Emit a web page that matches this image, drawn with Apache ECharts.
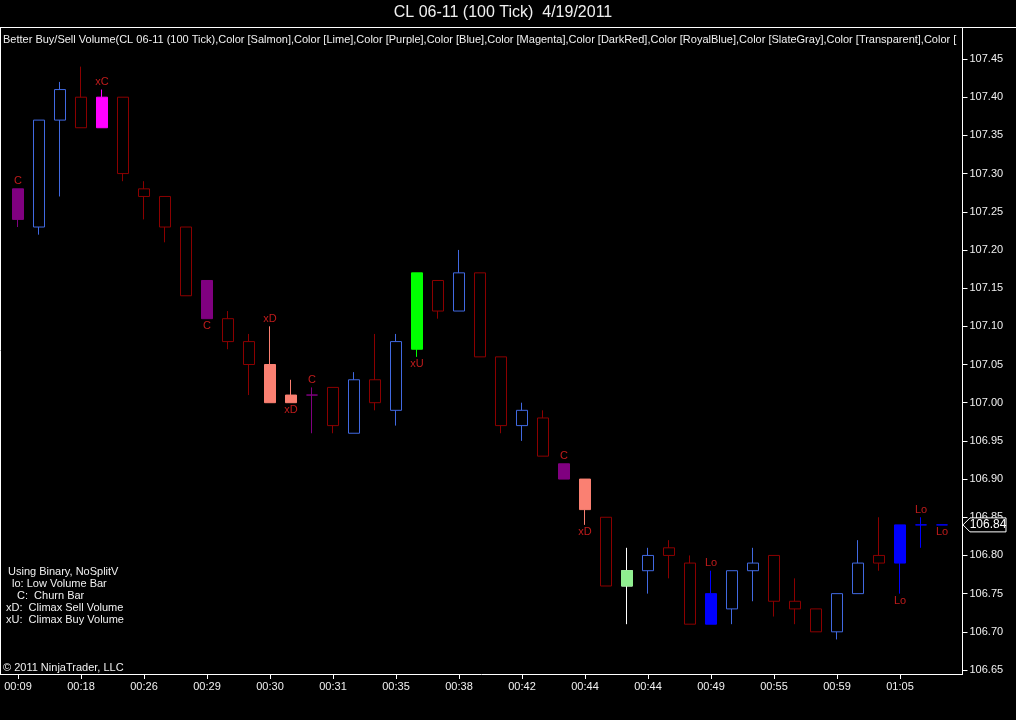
<!DOCTYPE html>
<html>
<head>
<meta charset="utf-8">
<title>CL 06-11 (100 Tick) 4/19/2011</title>
<script src="https://cdn.jsdelivr.net/npm/echarts@6/dist/echarts.min.js"></script>
<style>
    html, body { margin: 0; padding: 0; background: #000; }
    #chart { width: 1016px; height: 720px; }
</style>
</head>
<body>
<div id="chart"></div>
<script>
// bar times (only every third one is labelled on the axis)
var times = ['00:09', '00:12', '00:15', '00:18', '00:21', '00:24', '00:26', '00:27', '00:28',
    '00:29', '00:29', '00:30', '00:30', '00:30', '00:31', '00:31', '00:32', '00:34',
    '00:35', '00:36', '00:37', '00:38', '00:39', '00:41', '00:42', '00:43', '00:43',
    '00:44', '00:44', '00:44', '00:44', '00:46', '00:48', '00:49', '00:51', '00:53',
    '00:55', '00:56', '00:58', '00:59', '01:01', '01:03', '01:05', '01:06', '01:07'];

var opens = [107.24, 107.23, 107.37, 107.40, 107.36, 107.40, 107.28, 107.27, 107.23,
    107.16, 107.11, 107.08, 107.05, 107.01, 107.01, 107.02, 106.96, 107.03,
    106.99, 107.07, 107.16, 107.12, 107.17, 107.06, 106.97, 106.98, 106.92,
    106.90, 106.85, 106.76, 106.78, 106.81, 106.79, 106.71, 106.73, 106.78,
    106.80, 106.74, 106.73, 106.70, 106.75, 106.80, 106.79, 106.84, 106.84];
var closes = [107.28, 107.37, 107.41, 107.36, 107.40, 107.30, 107.27, 107.23, 107.14,
    107.11, 107.08, 107.05, 107.00, 107.00, 107.01, 106.97, 107.03, 107.00,
    107.08, 107.17, 107.12, 107.17, 107.06, 106.97, 106.99, 106.93, 106.90,
    106.86, 106.76, 106.78, 106.80, 106.80, 106.71, 106.75, 106.78, 106.79,
    106.74, 106.73, 106.70, 106.75, 106.79, 106.79, 106.84, 106.84, 106.84];
var lows = [107.23, 107.22, 107.27, 107.36, 107.36, 107.29, 107.24, 107.21, 107.14,
    107.11, 107.07, 107.01, 107.00, 107.00, 106.96, 106.96, 106.96, 106.99,
    106.97, 107.06, 107.11, 107.12, 107.06, 106.96, 106.95, 106.93, 106.90,
    106.84, 106.76, 106.71, 106.75, 106.77, 106.71, 106.71, 106.71, 106.74,
    106.72, 106.71, 106.70, 106.69, 106.75, 106.78, 106.75, 106.81, 106.84];
var highs = [107.28, 107.37, 107.42, 107.44, 107.41, 107.40, 107.29, 107.27, 107.23,
    107.16, 107.12, 107.09, 107.10, 107.03, 107.02, 107.02, 107.04, 107.09,
    107.09, 107.17, 107.16, 107.20, 107.17, 107.06, 107.00, 106.99, 106.92,
    106.90, 106.85, 106.81, 106.81, 106.82, 106.80, 106.78, 106.78, 106.81,
    106.80, 106.77, 106.73, 106.75, 106.82, 106.85, 106.84, 106.85, 106.84];

// volume classification of each bar
var barTypes = ['churn', 'up', 'up', 'down', 'climaxChurn', 'down', 'down', 'down', 'down',
    'churn', 'down', 'down', 'sell', 'sell', 'churn', 'down', 'up', 'down',
    'up', 'buy', 'down', 'up', 'down', 'down', 'up', 'down', 'churn',
    'sell', 'down', 'pale', 'up', 'down', 'down', 'low', 'up', 'up',
    'down', 'down', 'down', 'up', 'up', 'down', 'low', 'low', 'low'];

// signal text above / below bars
var markIdx = [0, 4, 9, 12, 13, 14, 19, 26, 27, 33, 42, 43, 44];
var markText = ['C', 'xC', 'C', 'xD', 'xD', 'C', 'xU', 'C', 'xD', 'Lo', 'Lo', 'Lo', 'Lo'];
var markSide = ['top', 'top', 'bottom', 'top', 'bottom', 'top', 'bottom', 'top', 'bottom',
    'top', 'bottom', 'top', 'bottom'];

var yMin = 106.65, yMax = 107.45, yStep = 0.05;
var lastPrice = 106.84;

var legendLines = [
    ['Using Binary, NoSplitV', 8],
    ['lo: Low Volume Bar', 12],
    ['C:  Churn Bar', 17],
    ['xD:  Climax Sell Volume', 6],
    ['xU:  Climax Buy Volume', 6]
];

var FONT = '"Liberation Sans", Arial, sans-serif';

var typeColors = {
    up: {fill: '#000', border: '#4169e1'},
    down: {fill: '#000', border: '#8b0000'},
    churn: {fill: '#800080', border: '#800080'},
    climaxChurn: {fill: '#ff00ff', border: '#ff00ff'},
    sell: {fill: '#fa8072', border: '#fa8072'},
    buy: {fill: '#00ff00', border: '#00ff00'},
    low: {fill: '#0000ff', border: '#0000ff'},
    pale: {fill: '#90ee90', border: '#ffffff'}
};

var candleData = [];
var paleBodies = [];
for (var i = 0; i < opens.length; i++) {
    var c = typeColors[barTypes[i]];
    candleData.push({
        value: [opens[i], closes[i], lows[i], highs[i]],
        itemStyle: {
            color: c.fill, color0: c.fill,
            borderColor: c.border, borderColor0: c.border, borderColorDoji: c.border
        }
    });
    // body of the pale bar is drawn again on top so its wick stays white
    if (barTypes[i] === 'pale') {
        paleBodies.push({
            value: [opens[i], closes[i], Math.min(opens[i], closes[i]), Math.max(opens[i], closes[i])],
            itemStyle: {
                color: '#90ee90', color0: '#90ee90',
                borderColor: '#90ee90', borderColor0: '#90ee90', borderColorDoji: '#90ee90'
            }
        });
    } else {
        paleBodies.push('-');
    }
}

var markData = [];
for (var k = 0; k < markIdx.length; k++) {
    var j = markIdx[k];
    markData.push({
        name: markText[k],
        value: [j, markSide[k] === 'top' ? highs[j] : lows[j]],
        label: {position: markSide[k]}
    });
}

var graphics = [
    {type: 'text', x: 503, y: 13, style: {text: 'CL 06-11 (100 Tick)  4/19/2011', fill: '#f0f0f0',
        font: '16px ' + FONT, textAlign: 'center', textVerticalAlign: 'middle'}},
    {type: 'text', x: 3, y: 40, style: {
        text: 'Better Buy/Sell Volume(CL 06-11 (100 Tick),Color [Salmon],Color [Lime],Color [Purple],Color [Blue],Color [Magenta],Color [DarkRed],Color [RoyalBlue],Color [SlateGray],Color [Transparent],Color [Transparent],Color [Transparent])',
        fill: '#f0f0f0', font: '11px ' + FONT, textVerticalAlign: 'middle',
        width: 958, overflow: 'truncate', ellipsis: ''}},
    {type: 'text', x: 3, y: 668, style: {text: '\u00a9 2011 NinjaTrader, LLC', fill: '#f0f0f0',
        font: '11px ' + FONT, textVerticalAlign: 'middle'}},
    // frame
    {type: 'line', shape: {x1: 0, y1: 27.5, x2: 1016, y2: 27.5}, style: {stroke: '#fff', lineWidth: 1}},
    {type: 'line', shape: {x1: 0.5, y1: 27, x2: 0.5, y2: 674}, style: {stroke: '#fff', lineWidth: 1}},
    {type: 'line', shape: {x1: 962.5, y1: 27, x2: 962.5, y2: 675}, style: {stroke: '#fff', lineWidth: 1}},
    {type: 'line', shape: {x1: 0, y1: 674.5, x2: 963, y2: 674.5}, style: {stroke: '#fff', lineWidth: 1}}
];
for (var m = 0; m < legendLines.length; m++) {
    graphics.push({type: 'text', x: legendLines[m][1], y: 572 + m * 12, style: {
        text: legendLines[m][0], fill: '#f0f0f0', font: '11px ' + FONT, textVerticalAlign: 'middle'}});
}

var option = {
    backgroundColor: '#000',
    animation: false,
    textStyle: {fontFamily: FONT},
    grid: {left: 7.5, right: 63.5, top: 59, bottom: 50},
    xAxis: {
        type: 'category',
        data: times,
        offset: 4,
        axisLine: {show: false},
        axisTick: {show: true, alignWithLabel: true, interval: 2, length: 5, lineStyle: {color: '#fff'}},
        axisLabel: {interval: 2, color: '#f0f0f0', fontSize: 11, margin: 7},
        splitLine: {show: false}
    },
    yAxis: {
        type: 'value',
        position: 'right',
        offset: 10,
        min: yMin,
        max: yMax,
        interval: yStep,
        scale: true,
        axisLine: {show: false},
        axisTick: {show: true, length: 5, lineStyle: {color: '#fff'}},
        axisLabel: {color: '#f0f0f0', fontSize: 11, margin: 7, formatter: function (v) { return v.toFixed(2); }},
        splitLine: {show: false}
    },
    graphic: graphics,
    series: [
        {
            name: 'CL 06-11',
            type: 'candlestick',
            barWidth: 12,
            data: candleData
        },
        {
            name: 'pale body',
            type: 'candlestick',
            barWidth: 12,
            z: 3,
            data: paleBodies
        },
        {
            name: 'signals',
            type: 'scatter',
            symbolSize: 0,
            itemStyle: {color: 'transparent'},
            label: {show: true, formatter: '{b}', color: '#ee2222', fontSize: 11, distance: 2},
            data: markData
        }
    ]
};

var chart = echarts.init(document.getElementById('chart'));
chart.setOption(option);

// last price tag on the price scale
var py = chart.convertToPixel({yAxisIndex: 0}, lastPrice);
chart.setOption({
    graphic: graphics.concat([
        {type: 'polygon', z: 100, shape: {points: [[963, py], [970, py - 7], [1006, py - 7], [1006, py + 7], [970, py + 7]]},
            style: {fill: '#000', stroke: '#fff', lineWidth: 1}},
        {type: 'text', z: 101, x: 988, y: py, style: {text: lastPrice.toFixed(2), fill: '#fff',
            font: '12px ' + FONT, textAlign: 'center', textVerticalAlign: 'middle'}}
    ])
});
</script>
</body>
</html>
